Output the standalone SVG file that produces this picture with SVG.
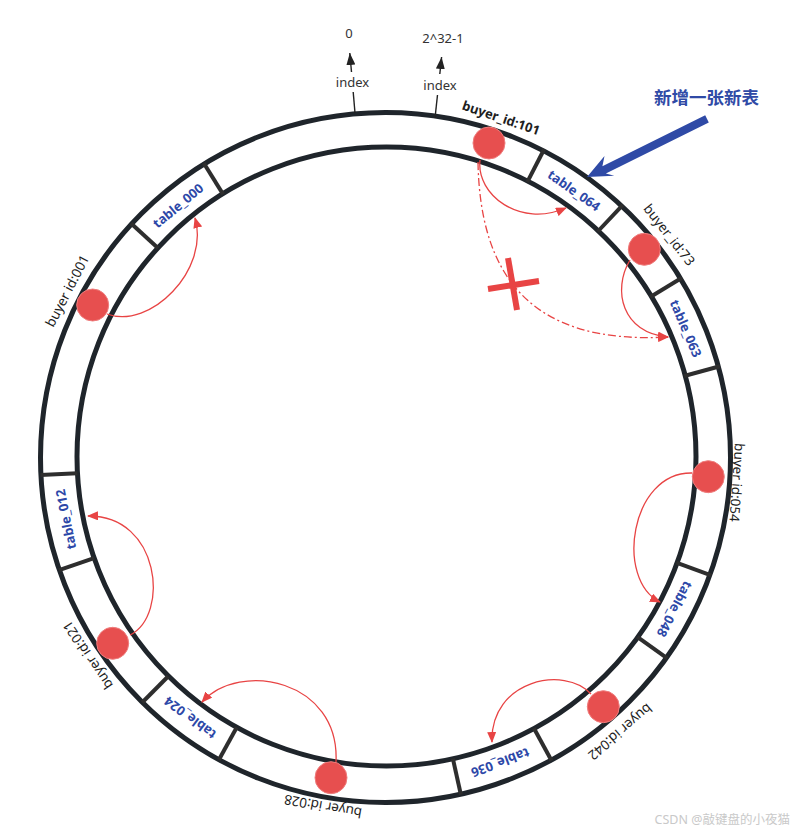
<svg xmlns="http://www.w3.org/2000/svg" width="795" height="834" viewBox="0 0 795 834">
<defs>
<style>
.ring{fill:none;stroke:#1f252b;stroke-width:5}
.div{stroke:#2e2e2e;stroke-width:4}
.tbl{font-family:"Noto Sans","Open Sans",sans-serif;font-size:13px;font-weight:bold;fill:#2d48a8;text-anchor:middle}
.buy{font-family:"Noto Sans","Open Sans",sans-serif;font-size:13.5px;fill:#1e1e1e;text-anchor:middle}
.lbl{font-family:"Noto Sans","Open Sans",sans-serif;font-size:13px;fill:#333;text-anchor:middle}
.node{fill:#e74f4f;stroke:#ef7d7d;stroke-width:1}
.rarr{fill:none;stroke:#e84444;stroke-width:1.3;marker-end:url(#rh)}
.iarr{stroke:#222;stroke-width:1.4}
</style>
<marker id="rh" markerUnits="userSpaceOnUse" markerWidth="11" markerHeight="9" refX="10" refY="4.5" orient="auto"><path d="M0,0 L11,4.5 L0,9 z" fill="#e84444"/></marker>
<marker id="kh" markerUnits="userSpaceOnUse" markerWidth="13" markerHeight="9" refX="12" refY="4.5" orient="auto"><path d="M0,0 L12,4.5 L0,9 z" fill="#222"/></marker>
</defs>

<g id="ring">
<circle class="ring" cx="385.5" cy="457.5" r="345"/>
<circle class="ring" cx="386.5" cy="456.5" r="309.5"/>
</g>

<g id="dividers">
<g transform="translate(386,457)">
<line class="div" x1="309" y1="0" x2="346" y2="0" transform="rotate(-62.8)"/>
<line class="div" x1="309" y1="0" x2="346" y2="0" transform="rotate(-46.8)"/>
<line class="div" x1="309" y1="0" x2="346" y2="0" transform="rotate(-31.2)"/>
<line class="div" x1="309" y1="0" x2="346" y2="0" transform="rotate(-15.2)"/>
<line class="div" x1="309" y1="0" x2="346" y2="0" transform="rotate(20)"/>
<line class="div" x1="309" y1="0" x2="346" y2="0" transform="rotate(35.6)"/>
<line class="div" x1="309" y1="0" x2="346" y2="0" transform="rotate(61.4)"/>
<line class="div" x1="309" y1="0" x2="346" y2="0" transform="rotate(77.5)"/>
<line class="div" x1="309" y1="0" x2="346" y2="0" transform="rotate(118.9)"/>
<line class="div" x1="309" y1="0" x2="346" y2="0" transform="rotate(134.8)"/>
<line class="div" x1="309" y1="0" x2="346" y2="0" transform="rotate(160.9)"/>
<line class="div" x1="309" y1="0" x2="346" y2="0" transform="rotate(177)"/>
<line class="div" x1="309" y1="0" x2="346" y2="0" transform="rotate(222.5)"/>
<line class="div" x1="309" y1="0" x2="346" y2="0" transform="rotate(238.2)"/>
</g>
</g>

<g id="index0">
<line class="iarr" x1="355" y1="113" x2="353.2" y2="92"/>
<line class="iarr" x1="351.5" y1="72" x2="349.8" y2="53" marker-end="url(#kh)"/>
<text class="lbl" x="352.5" y="86.5">index</text>
<text class="lbl" x="349" y="38">0</text>
</g>
<g id="index1">
<line class="iarr" x1="435" y1="118" x2="437.5" y2="95"/>
<line class="iarr" x1="439.8" y1="74" x2="441.6" y2="57" marker-end="url(#kh)"/>
<text class="lbl" x="440" y="90">index</text>
<text class="lbl" x="443" y="43">2^32-1</text>
</g>

<g id="tables">
<g id="table_064"><text class="tbl" transform="translate(573.9,190.6) rotate(35.2)" dy="4.5">table_064</text></g>
<g id="table_063"><text class="tbl" transform="translate(685.6,328.6) rotate(66.8)" dy="4.5">table_063</text></g>
<g id="table_048"><text class="tbl" transform="translate(674.4,609) rotate(117.8)" dy="4.5">table_048</text></g>
<g id="table_036"><text class="tbl" transform="translate(500.2,762.4) rotate(159.5)" dy="4.5">table_036</text></g>
<g id="table_024"><text class="tbl" transform="translate(190.3,717.7) rotate(216.9)" dy="4.5">table_024</text></g>
<g id="table_012"><text class="tbl" transform="translate(66,519.2) rotate(259)" dy="4.5">table_012</text></g>
<g id="table_000"><text class="tbl" transform="translate(178.2,205.8) rotate(320.4)" dy="4.5">table_000</text></g>
</g>

<g id="buyer_labels">
<text class="buy" style="font-weight:bold;font-size:13px" transform="translate(501,118) rotate(18.7)" dy="4.5">buyer_id:101</text>
<text class="buy" transform="translate(669,235) rotate(51.9)" dy="4.5">buyer_id:73</text>
<text class="buy" transform="translate(736.7,482.5) rotate(94.2)" dy="4.5">buyer id:054</text>
<text class="buy" transform="translate(620,731.7) rotate(139.6)" dy="4.5">buyer id:042</text>
<text class="buy" transform="translate(323,806) rotate(190.2)" dy="4.5">buyer id:028</text>
<text class="buy" transform="translate(88,655) rotate(236.4)" dy="4.5">buyer id:021</text>
<text class="buy" transform="translate(67.5,291) rotate(297.5)" dy="4.5">buyer id:001</text>
</g>

<g id="connectors">
<path class="rarr" d="M480,160 C476,195 520,228 566,208"/>
<path class="rarr" d="M478,162 C480,275 530,345 668,337" stroke-dasharray="8,3,2,3"/>
<path class="rarr" d="M630,260 C612,290 622,333 668,337"/>
<path class="rarr" d="M692,473 C630,472 615,580 660,602"/>
<path class="rarr" d="M591,694 C565,665 490,680 492,742"/>
<path class="rarr" d="M336,762 C340,680 240,660 202,702"/>
<path class="rarr" d="M130,635 C170,615 160,515 88,516"/>
<path class="rarr" d="M107,314 C150,330 210,270 195,218"/>
</g>

<g id="nodes">
<circle id="buyer_101" class="node" cx="489" cy="143" r="16"/>
<circle id="buyer_73" class="node" cx="644.3" cy="249.3" r="16"/>
<circle id="buyer_054" class="node" cx="708.3" cy="476.7" r="16"/>
<circle id="buyer_042" class="node" cx="603.3" cy="706.7" r="16"/>
<circle id="buyer_028" class="node" cx="331" cy="777.7" r="16"/>
<circle id="buyer_021" class="node" cx="112.7" cy="643.3" r="16"/>
<circle id="buyer_001" class="node" cx="92.7" cy="305" r="16"/>
</g>

<g id="cross">
<line x1="488" y1="289" x2="539" y2="281" stroke="#e84444" stroke-width="6"/>
<line x1="508" y1="258" x2="517" y2="310" stroke="#e84444" stroke-width="6"/>
</g>

<g id="new_table">
<polygon points="708.8,122.5 605.9,173.5 614.3,175.8 587,177 604.5,156 602.4,166.3 705.2,115.3" fill="#2f4aa6"/>
<text x="706.5" y="104" style="font-family:'Noto Sans CJK SC','Noto Sans',sans-serif;font-size:17.5px;font-weight:bold;fill:#2f4aa6;text-anchor:middle">新增一张新表</text>
</g>

<text x="790" y="824" style="font-family:'Noto Sans','Noto Sans CJK SC',sans-serif;font-size:12.5px;fill:#c9c9c9;text-anchor:end">CSDN @敲键盘的小夜猫</text>
</svg>
